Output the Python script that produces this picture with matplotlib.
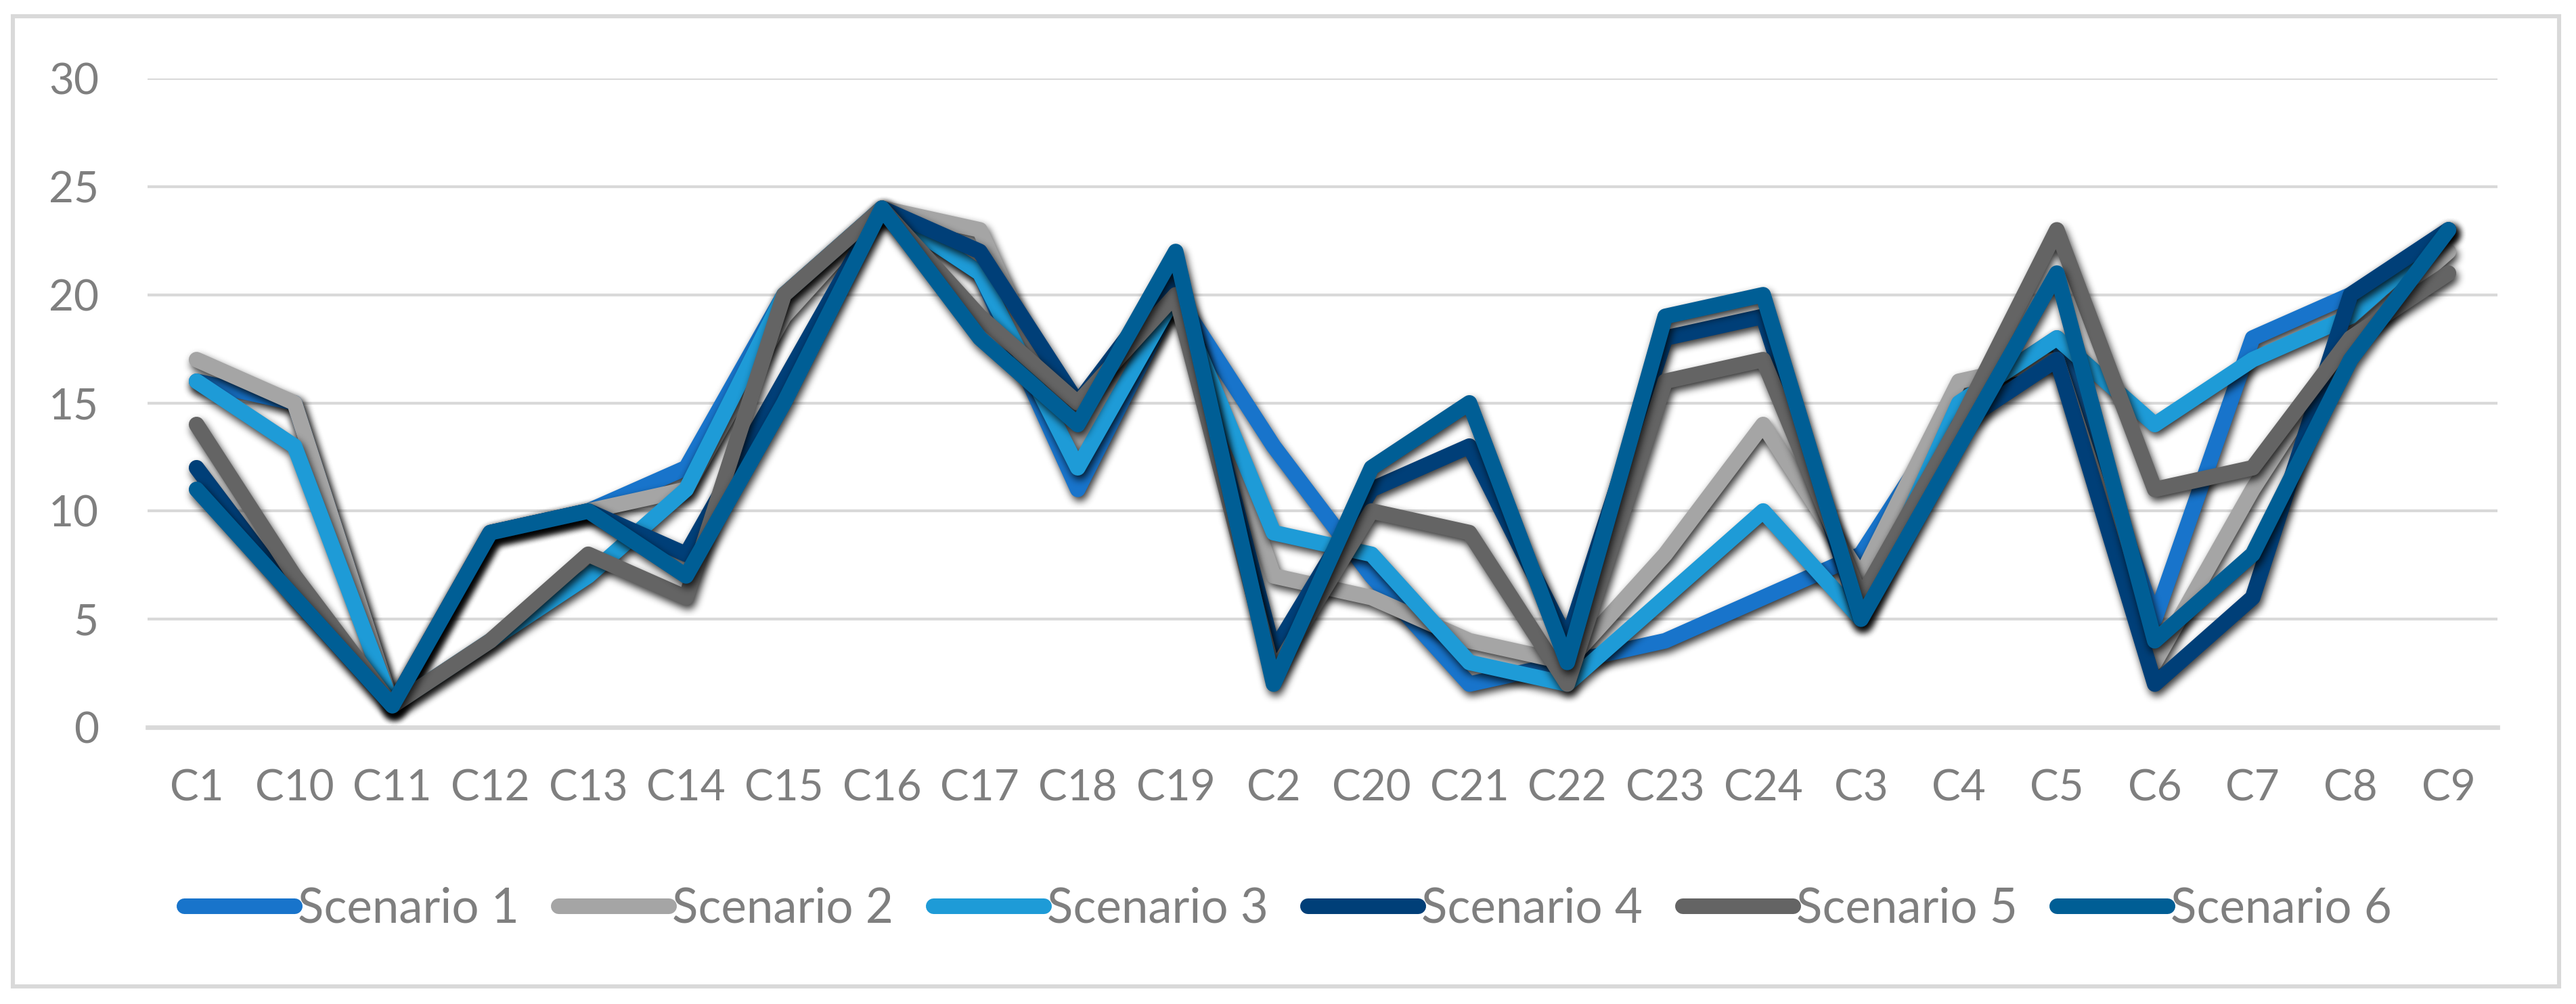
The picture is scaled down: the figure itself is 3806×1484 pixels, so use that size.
import numpy as np
import matplotlib
import matplotlib.pyplot as plt
from matplotlib.patches import Rectangle

matplotlib.use('Agg')
plt.rcParams['font.family'] = ['Lato', 'DejaVu Sans']

# Data
categories = ['C1', 'C10', 'C11', 'C12', 'C13', 'C14', 'C15', 'C16', 'C17', 'C18', 'C19', 'C2',
              'C20', 'C21', 'C22', 'C23', 'C24', 'C3', 'C4', 'C5', 'C6', 'C7', 'C8', 'C9']
scenario_1 = [16, 15, 1, 9, 10, 12, 20, 24, 21, 11, 20, 13, 7, 2, 3, 4, 6, 8, 15, 18, 5, 18, 20, 23]
scenario_2 = [17, 15, 1, 9, 10, 11, 19, 24, 23, 13, 20, 7, 6, 4, 3, 8, 14, 7, 16, 17, 3, 11, 18, 22]
scenario_3 = [16, 13, 1, 4, 7, 11, 20, 24, 21, 12, 20, 9, 8, 3, 2, 6, 10, 5, 15, 18, 14, 17, 19, 23]
scenario_4 = [12, 6, 1, 9, 10, 8, 16, 24, 22, 15, 21, 3.5, 11, 13, 4, 18, 19, 5, 14, 17, 2, 6, 20, 23]
scenario_5 = [14, 7, 1, 4, 8, 6, 20, 24, 19, 15, 20, 2.5, 10, 9, 2, 16, 17, 6, 14, 23, 11, 12, 18, 21]
scenario_6 = [11, 6, 1, 9, 10, 7, 15, 24, 18, 14, 22, 2, 12, 15, 3, 19, 20, 5, 13, 21, 4, 8, 17, 23]
series_names = ['Scenario 1', 'Scenario 2', 'Scenario 3', 'Scenario 4', 'Scenario 5', 'Scenario 6']
series_colors = ['#1874CB', '#A5A5A5', '#1E9BD7', '#003F78', '#646464', '#005E95']

TEXT_GRAY = '#7F7F7F'
GRID_GRAY = '#D9D9D9'


def box_blur(a, r, axis):
    pad = [(0, 0)] * a.ndim
    pad[axis] = (r + 1, r)
    c = np.cumsum(np.pad(a, pad), axis=axis)
    n = a.shape[axis]
    hi = np.take(c, np.arange(2 * r + 1, 2 * r + 1 + n), axis=axis)
    lo = np.take(c, np.arange(0, n), axis=axis)
    return (hi - lo) / (2 * r + 1)


def drop_shadow(im, dpi):
    # blurred black copy of the line, pushed a bit down and right
    pad = 30
    a = np.pad(im[..., 3], pad)
    for _ in range(3):
        a = box_blur(a, 5, 0)
        a = box_blur(a, 5, 1)
    a = np.roll(np.roll(a, 3, axis=1), 6, axis=0)
    out = np.zeros(a.shape + (4,))
    out[..., 3] = np.clip(a * 0.8, 0, 1)
    return out, -pad, -pad


fig = plt.figure(figsize=(19.03, 7.42), dpi=200)
ax = fig.add_axes([0.0573, 0.2756, 0.9122, 0.6462])

x = np.arange(len(categories))
all_series = [scenario_1, scenario_2, scenario_3, scenario_4, scenario_5, scenario_6]
lw = 8.3
handles = []
for i, (vals, name, col) in enumerate(zip(all_series, series_names, series_colors)):
    ax.plot(x, vals, color='black', lw=lw, solid_joinstyle='round', solid_capstyle='round',
            agg_filter=drop_shadow, zorder=3 + 2 * i)
    line, = ax.plot(x, vals, color=col, lw=lw, label=name, solid_joinstyle='round',
                    solid_capstyle='round', zorder=4 + 2 * i)
    handles.append(line)

ax.set_xlim(-0.5, len(categories) - 0.5)
ax.set_ylim(0, 30)
ax.set_yticks(range(0, 31, 5))
ax.set_xticks(x)
ax.set_xticklabels(categories)
ax.grid(axis='y', color=GRID_GRAY, lw=1.5, zorder=0)
ax.set_axisbelow(True)
for s in ['top', 'right', 'left']:
    ax.spines[s].set_visible(False)
ax.spines['bottom'].set_color(GRID_GRAY)
ax.spines['bottom'].set_linewidth(2.4)
ax.spines['bottom'].set_zorder(1)
ax.tick_params(axis='both', length=0, labelsize=23, labelcolor=TEXT_GRAY)
ax.tick_params(axis='x', pad=22)
ax.tick_params(axis='y', pad=26)

fig.legend(handles=handles, loc='center', bbox_to_anchor=(0.5, 0.095), ncol=6, frameon=False,
           fontsize=25.5, labelcolor=TEXT_GRAY, handlelength=2.3, handletextpad=0.07,
           columnspacing=0.83)

# chart border
fig.patches.append(Rectangle((19 / 3806, 1 - 1458 / 1484), 3762 / 3806, 1434 / 1484,
                             transform=fig.transFigure, fill=False, edgecolor=GRID_GRAY, lw=2.2))

fig.savefig('out.png', dpi=200, facecolor='white')
